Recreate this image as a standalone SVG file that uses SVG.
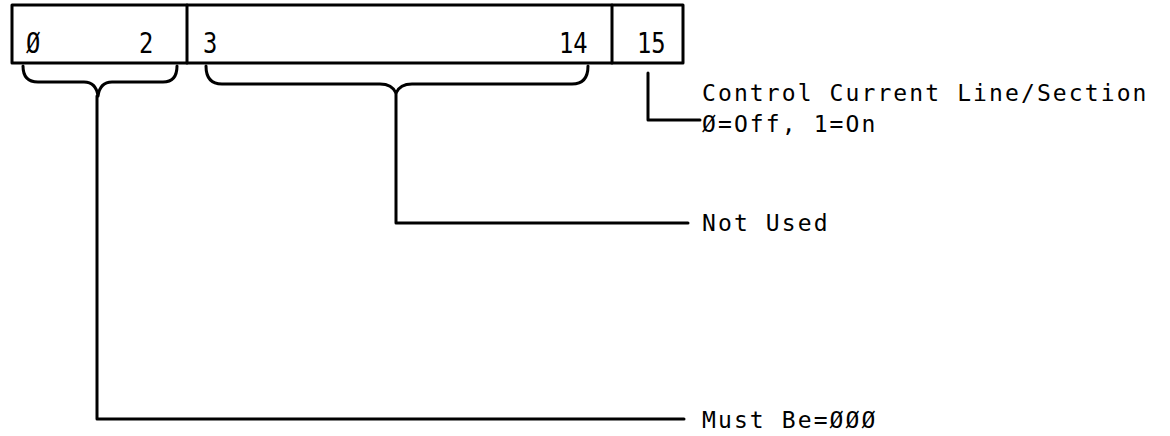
<svg xmlns="http://www.w3.org/2000/svg" width="1170" height="436" viewBox="0 0 1170 436">
<style>
.ln{fill:none;stroke:#000;stroke-width:3;stroke-linejoin:round;stroke-linecap:round}
.num{font-family:"DejaVu Sans Mono","Liberation Mono",monospace;font-size:28px;fill:#000}
.lbl{font-family:"DejaVu Sans Mono","Liberation Mono",monospace;font-size:23px;letter-spacing:2.1px;fill:#000}
</style>
<rect width="1170" height="436" fill="#fff"/>
<g id="register">
<rect class="ln" x="12" y="5" width="671" height="58"/>
<line class="ln" x1="187" y1="5" x2="187" y2="63"/>
<line class="ln" x1="612" y1="5" x2="612" y2="63"/>
<text class="num" x="26" y="53" transform="translate(26 0) scale(0.85 1) translate(-26 0)">Ø</text>
<text class="num" x="139" y="53" transform="translate(139 0) scale(0.85 1) translate(-139 0)">2</text>
<text class="num" x="203" y="53" transform="translate(203 0) scale(0.85 1) translate(-203 0)">3</text>
<text class="num" x="559" y="53" transform="translate(559 0) scale(0.85 1) translate(-559 0)">14</text>
<text class="num" x="637" y="53" transform="translate(637 0) scale(0.85 1) translate(-637 0)">15</text>
</g>
<g id="connectors">
<path class="ln" d="M23 66 Q23 82 38 82 L84 82 Q96 82 98 96 Q100 82 112 82 L163 82 Q177 82 177 66"/>
<path class="ln" d="M206 66 Q206 84 222 84 L380 84 Q392 84 396 93 Q400 84 412 84 L572 84 Q588 84 588 66"/>
<path class="ln" d="M97 96 L97 419 L684 419"/>
<path class="ln" d="M396 93 L396 223 L688 223"/>
<path class="ln" d="M648 73 L648 120 L700 120"/>
</g>
<g id="label-control">
<text class="lbl" x="702" y="101">Control Current Line/Section</text>
<text class="lbl" x="702" y="132">Ø=Off, 1=On</text>
</g>
<g id="label-notused">
<text class="lbl" x="702" y="231">Not Used</text>
</g>
<g id="label-mustbe">
<text class="lbl" x="702" y="428">Must Be=ØØØ</text>
</g>
</svg>
